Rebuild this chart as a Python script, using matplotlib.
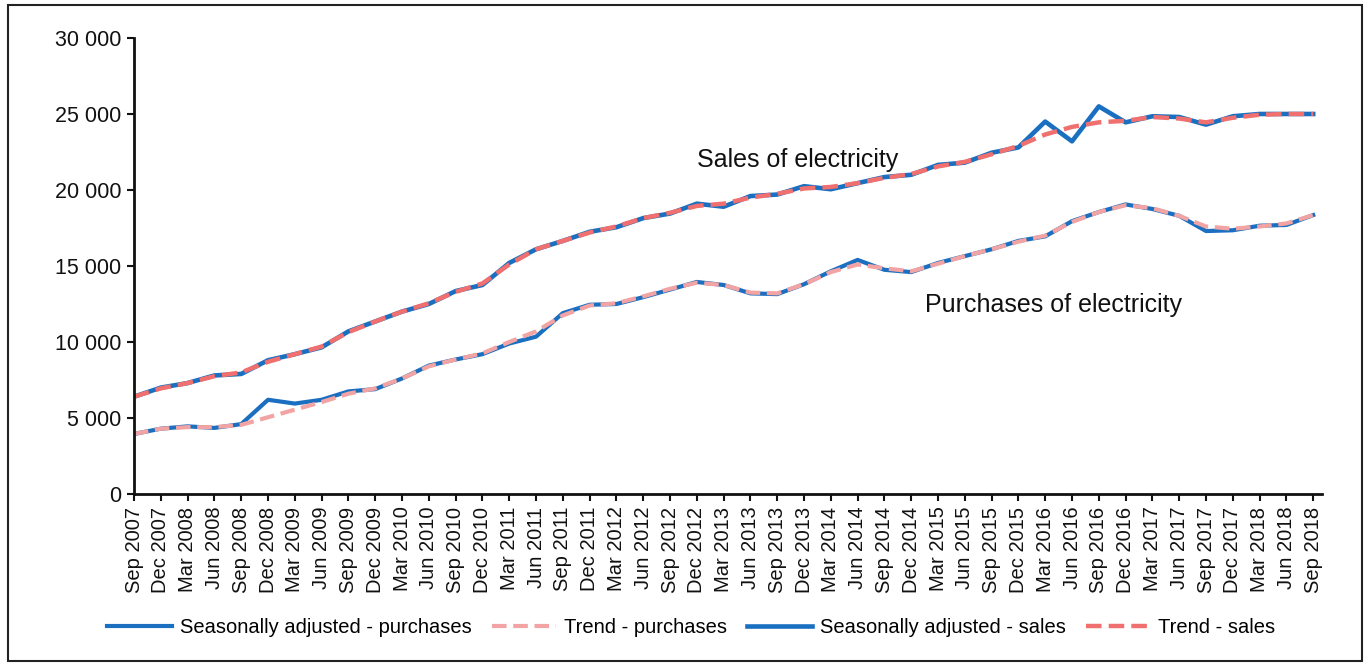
import matplotlib.pyplot as plt
from matplotlib.patches import Rectangle

plt.rcParams['font.family'] = ['Liberation Sans', 'DejaVu Sans']

# quarterly periods
quarters = []
for yr in range(2007, 2019):
    for m in ["Mar", "Jun", "Sep", "Dec"]:
        quarters.append(f"{m} {yr}")
quarters = quarters[2:2 + 45]  # Sep 2007 .. Sep 2018

sa_purchases = [3950, 4300, 4450, 4350, 4600, 6200, 5950, 6200, 6750, 6900,
                7600, 8450, 8850, 9200, 9900, 10350, 11900, 12450, 12500, 12950,
                13450, 13950, 13750, 13200, 13150, 13800, 14650, 15400, 14750, 14600,
                15200, 15650, 16100, 16650, 16950, 17950, 18550, 19050, 18750, 18300,
                17300, 17350, 17650, 17700, 18350]
trend_purchases = [3950, 4300, 4400, 4400, 4550, 5050, 5550, 6050, 6600, 6950,
                   7600, 8400, 8850, 9250, 10000, 10700, 11750, 12400, 12550, 13000,
                   13500, 13900, 13750, 13250, 13200, 13800, 14600, 15100, 14850, 14650,
                   15150, 15650, 16100, 16600, 17000, 17900, 18550, 19000, 18800, 18300,
                   17600, 17450, 17600, 17800, 18350]
sa_sales = [6400, 7000, 7300, 7800, 7900, 8800, 9200, 9650, 10700, 11350,
            12000, 12500, 13350, 13750, 15200, 16100, 16650, 17250, 17550, 18150,
            18450, 19100, 18900, 19600, 19700, 20250, 20050, 20450, 20850, 21000,
            21650, 21800, 22450, 22800, 24500, 23200, 25500, 24450, 24850, 24800,
            24300, 24850, 25000, 25000, 25000]
trend_sales = [6400, 6950, 7300, 7750, 8000, 8700, 9200, 9700, 10650, 11350,
               12000, 12550, 13300, 13850, 15100, 16100, 16650, 17200, 17600, 18150,
               18500, 18950, 19100, 19500, 19750, 20100, 20200, 20450, 20800, 21050,
               21550, 21850, 22350, 22900, 23650, 24150, 24450, 24550, 24800, 24700,
               24450, 24750, 24950, 25000, 25000]

blue = "#1a6fc0"
pink = "#f2a3a3"
red = "#f07070"

fig = plt.figure(figsize=(13.69, 6.65), dpi=100)
ax = fig.add_axes([0.0979, 0.2571, 0.8678, 0.6858])
x = list(range(len(quarters)))

ax.plot(x, sa_purchases, color=blue, lw=3.0, label="Seasonally adjusted - purchases")
ax.plot(x, trend_purchases, color=pink, lw=3.0, dashes=(3.5, 1.6), label="Trend - purchases")
ax.plot(x, sa_sales, color=blue, lw=3.3, label="Seasonally adjusted - sales")
ax.plot(x, trend_sales, color=red, lw=3.2, dashes=(3.5, 1.6), label="Trend - sales")

ax.set_xlim(0, 44.33)
ax.set_ylim(0, 30000)
ax.set_yticks(range(0, 30001, 5000))
ax.set_yticklabels([f"{v:,}".replace(",", " ") for v in range(0, 30001, 5000)], fontsize=15.5)
ax.set_xticks(x)
ax.set_xticklabels(quarters, rotation=90, fontsize=14.5)
ax.tick_params(axis='both', direction='out', length=5, width=1.5, colors='#111111', pad=4)
for s in ["top", "right"]:
    ax.spines[s].set_visible(False)
for s in ["left", "bottom"]:
    ax.spines[s].set_linewidth(2)
    ax.spines[s].set_color('#111111')

ax.text(21.0, 21970, "Sales of electricity", fontsize=18, va='center', ha='left', color='#111111')
ax.text(29.5, 12430, "Purchases of electricity", fontsize=18, va='center', ha='left', color='#111111')

fig.legend(loc='center', bbox_to_anchor=(0.505, 0.056), ncol=4, frameon=False,
           fontsize=14.5, handlelength=3.2, handletextpad=0.4, columnspacing=1.0)

fig.patches.append(Rectangle((0.006, 0.006), 0.989, 0.986, transform=fig.transFigure,
                             fill=False, edgecolor='#222222', lw=1.5))

fig.savefig("out.png", dpi=100)
